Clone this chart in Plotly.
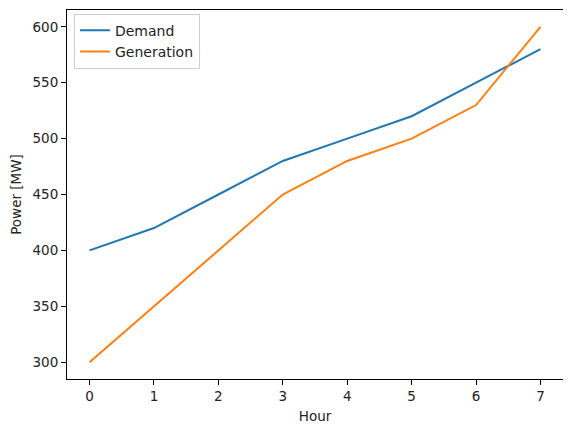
import plotly.graph_objects as go

hours = [0, 1, 2, 3, 4, 5, 6, 7]
demand = [400, 420, 450, 480, 500, 520, 550, 580]
generation = [300, 350, 400, 450, 480, 500, 530, 600]

fig = go.Figure()
fig.add_trace(go.Scatter(x=hours, y=demand, mode='lines', name='Demand',
                         line=dict(color='#1f77b4', width=2)))
fig.add_trace(go.Scatter(x=hours, y=generation, mode='lines', name='Generation',
                         line=dict(color='#ff7f0e', width=2)))

axis_style = dict(showline=True, linecolor='black', linewidth=1, mirror=True,
                  ticks='outside', ticklen=5, tickcolor='black', tickwidth=1,
                  showgrid=False, zeroline=False,
                  tickfont=dict(size=13.5, color='#222'))

fig.update_xaxes(range=[-0.35, 7.35], tickvals=hours,
                 title=dict(text='Hour', font=dict(size=13.5, color='#222'), standoff=8),
                 **axis_style)
fig.update_yaxes(range=[285, 615], tickvals=[300, 350, 400, 450, 500, 550, 600],
                 title=dict(text='Power [MW]', font=dict(size=13.5, color='#222'), standoff=8),
                 **axis_style)

# page body has an 8px margin, so the figure is sized to fit inside it
fig.update_layout(
    width=563, height=424,
    margin=dict(l=58.5, r=8.3, t=1.5, b=53),
    plot_bgcolor='white', paper_bgcolor='white',
    font=dict(family='DejaVu Sans', size=13.5, color='#222'),
    legend=dict(x=0.014, y=0.99, xanchor='left', yanchor='top',
                bgcolor='rgba(255,255,255,0.8)', bordercolor='#cccccc', borderwidth=1,
                font=dict(size=14), itemwidth=30, tracegroupgap=0),
    showlegend=True,
)
fig.write_html("out.html")
